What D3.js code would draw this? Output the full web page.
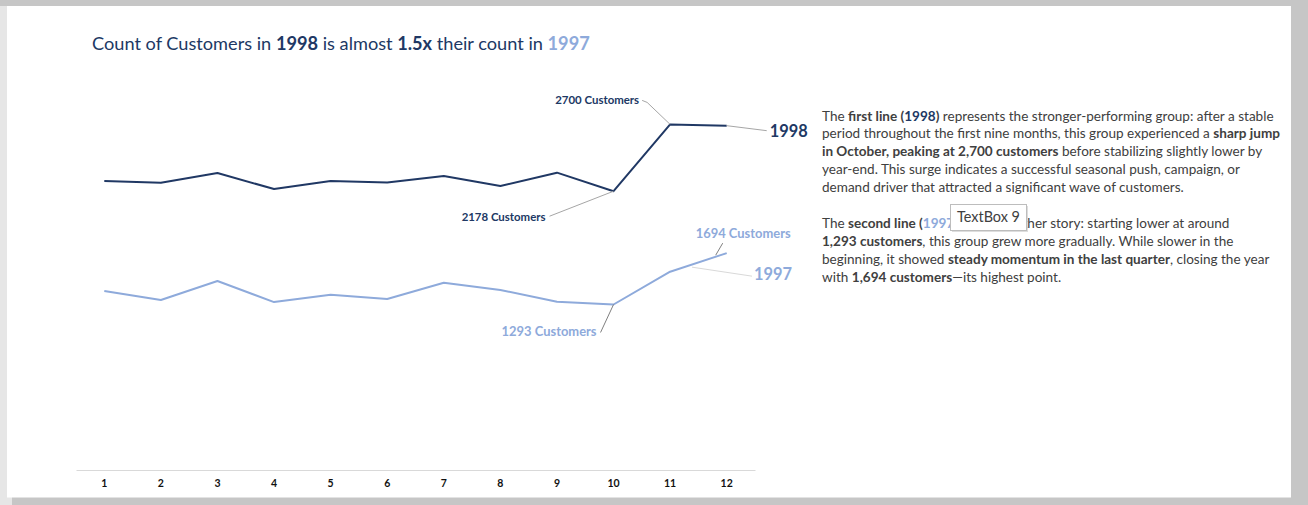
<!DOCTYPE html>
<html>
<head>
<meta charset="utf-8">
<script src="https://cdn.jsdelivr.net/npm/d3@7"></script>
<style>
  body { margin: 0; background: #c6c6c6; overflow: hidden; }
  svg { display: block; font-family: Lato, "Open Sans", sans-serif; }
</style>
</head>
<body>
<div id="container"></div>
<script>
/* DATA */
const months = [1, 2, 3, 4, 5, 6, 7, 8, 9, 10, 11, 12];
const customers1998 = [2258, 2245, 2320, 2195, 2258, 2246, 2297, 2219, 2323, 2178, 2700, 2690];
const customers1997 = [1398, 1328, 1477, 1312, 1370, 1336, 1463, 1406, 1315, 1293, 1549, 1694];
const seriesNames = ["1998", "1997"];

/* CONSTANTS AND GLOBALS */
const width = 1308, height = 505;
const navy = "#203864", light = "#8eaadb", grey = "#404040";

const svg = d3.select("#container")
  .append("svg")
  .attr("width", width)
  .attr("height", height);

// page frame
svg.append("rect").attr("x", 0).attr("y", 6).attr("width", 12).attr("height", height).attr("fill", "#e6e6e6");
svg.append("rect").attr("x", 7).attr("y", 6).attr("width", 1284).attr("height", 491.5).attr("fill", "#fff");

// scale a text so it is as wide as in the picture
function fitWidth(sel, target) {
  const w = sel.node().getComputedTextLength();
  const fs = parseFloat(sel.style("font-size"));
  sel.style("font-size", (fs * target / w) + "px");
}

/* TITLE */
const title = svg.append("text")
  .attr("x", 92).attr("y", 50)
  .style("font-size", "17px")
  .attr("fill", navy);
[["Count of Customers in ", 400, navy], [seriesNames[0], 700, navy], [" is almost ", 400, navy],
 ["1.5x", 700, navy], [" their count in ", 400, navy], [seriesNames[1], 700, light]]
  .forEach(s => title.append("tspan").text(s[0]).attr("font-weight", s[1]).attr("fill", s[2]));
fitWidth(title, 498);

/* SCALES */
const x = d3.scaleBand()
  .domain(months)
  .range([76, 755]);
const cx = m => x(m) + x.bandwidth() / 2;

const y = d3.scaleLinear()
  .domain([0, 3000])
  .range([470, 86]);

// x axis
const xAxis = svg.append("g")
  .attr("transform", "translate(0,470)")
  .call(d3.axisBottom(x).tickSize(0).tickSizeOuter(0).tickPadding(10));
xAxis.select(".domain").attr("stroke", "#d9d9d9");
xAxis.selectAll("text")
  .attr("font-family", "Lato, sans-serif")
  .attr("font-size", 10.5)
  .attr("font-weight", 700)
  .attr("fill", "#111");

/* LINES */
const line = d3.line()
  .x((d, i) => cx(months[i]))
  .y(d => y(d));

svg.append("path").datum(customers1997)
  .attr("d", line).attr("fill", "none")
  .attr("stroke", light).attr("stroke-width", 2).attr("stroke-linejoin", "round");

svg.append("path").datum(customers1998)
  .attr("d", line).attr("fill", "none")
  .attr("stroke", navy).attr("stroke-width", 2).attr("stroke-linejoin", "round");

/* ANNOTATIONS */
function leader(pts, color) {
  svg.append("path")
    .attr("d", d3.line()(pts))
    .attr("fill", "none")
    .attr("stroke", color)
    .attr("stroke-width", 1);
}
function label(txt, lx, ly, anchor, size, color, w) {
  const t = svg.append("text")
    .attr("x", lx).attr("y", ly)
    .attr("text-anchor", anchor)
    .attr("font-weight", 700)
    .style("font-size", size + "px")
    .attr("fill", color)
    .text(txt);
  if (w) fitWidth(t, w);
  return t;
}

// 1998 peak
const pPeak = [cx(11), y(customers1998[10])];
leader([[pPeak[0] - 28, pPeak[1] - 24], [pPeak[0] - 23, pPeak[1] - 22], pPeak], "#a6a6a6");
label(customers1998[10] + " Customers", pPeak[0] - 31, pPeak[1] - 20, "end", 11, navy, 84);

// 1998 low
const pLow98 = [cx(10), y(customers1998[9])];
leader([[pLow98[0] - 64, pLow98[1] + 25], pLow98], "#a6a6a6");
label(customers1998[9] + " Customers", pLow98[0] - 68, pLow98[1] + 30, "end", 11, navy, 84);

// 1998 series name
const pEnd98 = [cx(12), y(customers1998[11])];
leader([pEnd98, [pEnd98[0] + 40, pEnd98[1] + 5]], "#a6a6a6");
label(seriesNames[0], pEnd98[0] + 43, pEnd98[1] + 11, "start", 17, navy, 38);

// 1997 end
const pEnd97 = [cx(12), y(customers1997[11])];
leader([[pEnd97[0] - 4, pEnd97[1] - 10], [pEnd97[0] - 11, pEnd97[1] + 2]], "#7f7f7f");
label(customers1997[11] + " Customers", pEnd97[0] - 31, pEnd97[1] - 15, "start", 12, light, 95);

// 1997 series name
leader([[692, pEnd97[1] + 14], [752, pEnd97[1] + 23]], "#d9d9d9");
label(seriesNames[1], 754, pEnd97[1] + 27, "start", 17, light, 38);

// 1997 low
const pLow97 = [cx(10), y(customers1997[9])];
leader([[pLow97[0] - 13, pLow97[1] + 28], pLow97], "#7f7f7f");
label(customers1997[9] + " Customers", pLow97[0] - 17, pLow97[1] + 32, "end", 12, light, 95);

/* DESCRIPTION */
const para = [
  [["The ", "n"], ["first line (", "b"], ["1998", "b98"], [")", "b"], [" represents the stronger-performing group: after a stable", "n"]],
  [["period throughout the first nine months, this group experienced a ", "n"], ["sharp jump", "b"]],
  [["in October, peaking at 2,700 customers", "b"], [" before stabilizing slightly lower by", "n"]],
  [["year-end. This surge indicates a successful seasonal push, campaign, or", "n"]],
  [["demand driver that attracted a significant wave of customers.", "n"]],
  [],
  [["The ", "n"], ["second line (", "b"], ["1997", "b97"], [")", "b"], [" paints another story: starting lower at around", "n"]],
  [["1,293 customers", "b"], [", this group grew more gradually. While slower in the", "n"]],
  [["beginning, it showed ", "n"], ["steady momentum in the last quarter", "b"], [", closing the year", "n"]],
  [["with ", "n"], ["1,694 customers", "b"], ["\u2014its highest point.", "n"]]
];
const segColor = { n: grey, b: grey, b98: navy, b97: light };

const paraLines = para.map((segs, i) => {
  const t = svg.append("text")
    .attr("x", 822).attr("y", 120.5 + i * 17.9)
    .style("font-size", "13px")
    .attr("fill", grey);
  segs.forEach(s => t.append("tspan")
    .text(s[0])
    .attr("font-weight", s[1] === "n" ? 400 : 700)
    .attr("fill", segColor[s[1]]));
  return t;
});
const paraSize = 13 * 452 / paraLines[0].node().getComputedTextLength();
paraLines.forEach(t => t.style("font-size", paraSize + "px"));

// the editor tooltip that sits over the text
const tip = svg.append("g");
tip.append("rect")
  .attr("x", 952).attr("y", 206).attr("width", 76).attr("height", 26)
  .attr("fill", "#bbb").attr("opacity", 0.5);
tip.append("rect")
  .attr("x", 950.5).attr("y", 204.5).attr("width", 76).attr("height", 26)
  .attr("fill", "#fff").attr("stroke", "#bdbdbd");
const tipText = tip.append("text")
  .attr("x", 957).attr("y", 222)
  .style("font-size", "14px")
  .attr("fill", grey)
  .text("TextBox 9");
fitWidth(tipText, 63);
</script>
</body>
</html>
